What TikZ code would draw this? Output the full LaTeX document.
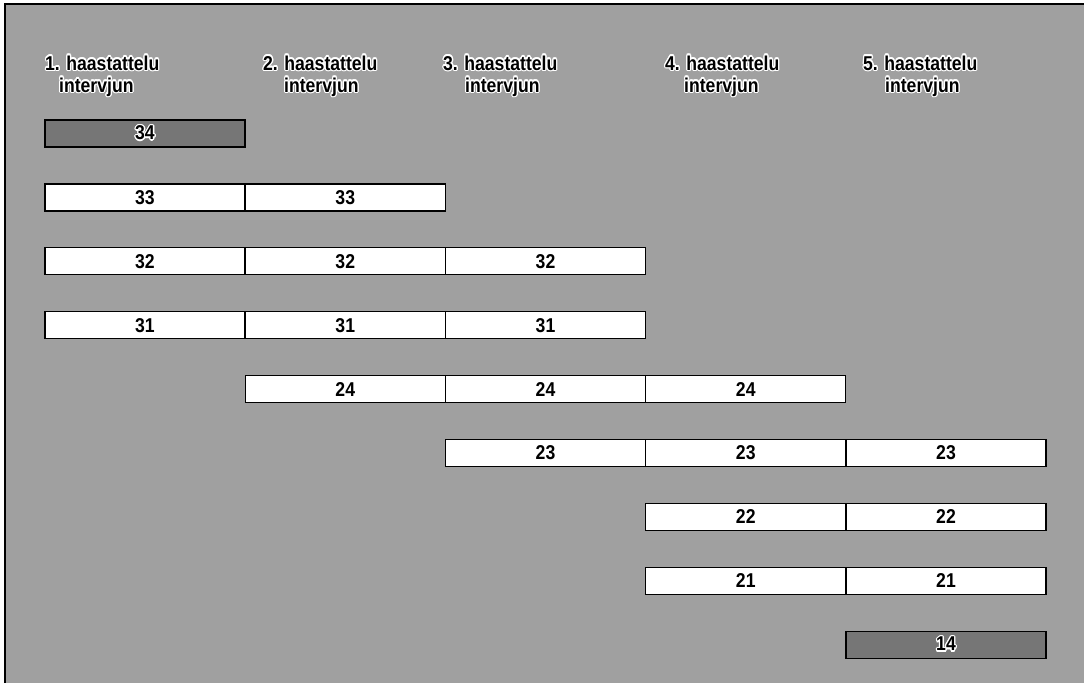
\documentclass[tikz,border=0pt]{standalone}
\usepackage{fontspec}
\setmainfont{Liberation Sans}[FakeStretch=0.88]
\usepackage{contour}
\contourlength{1.3pt}
\contournumber{12}
\definecolor{bg}{HTML}{A0A0A0}
\definecolor{dark}{HTML}{767676}
\begin{document}
\begin{tikzpicture}[x=1pt,y=-1pt,
  cell/.style={draw=black,line width=1.3pt,fill=white,minimum width=200pt,minimum height=27pt,
    inner sep=0pt,outer sep=0pt,anchor=north west,font=\fontsize{20}{24}\selectfont\bfseries},
  darkcell/.style={cell,fill=dark},
  head/.style={anchor=base west,inner sep=0pt,font=\fontsize{20}{24}\selectfont\bfseries}]
\useasboundingbox (0,0) rectangle (1084,683);
\fill[white] (0,0) rectangle (1084,683);
\fill[bg] (5,4) rectangle (1084,683);
\draw[line width=1.5pt] (5,683) -- (5,4) -- (1084,4);
% headers
\foreach \i/\xa/\xb in {1/45/59, 2/263/284, 3/443/465, 4/665/684, 5/863/885} {
  \node[head] (h\i a) at (\xa,70) {\contour{white}{\i. haastattelu}};
  \node[head] (h\i b) at (\xb,92) {\contour{white}{intervjun}};
}
% white cells
\foreach \r/\a/\b/\t in {1/1/2/33, 2/1/3/32, 3/1/3/31, 4/2/4/24, 5/3/5/23, 6/4/5/22, 7/4/5/21} {
  \foreach \c in {\a,...,\b} {
    \node[cell] (n\t-\c) at ({45+200.25*(\c-1)},{120+63.9*\r}) {\raisebox{-2pt}{\t}};
  }
}
% dark cells
\node[darkcell] (n34-1) at (45,120) {\raisebox{-2pt}{\contour{white}{34}}};
\node[darkcell] (n14-5) at ({45+200.25*4},{120+63.9*8}) {\raisebox{-2pt}{\contour{white}{14}}};
\end{tikzpicture}
\end{document}
